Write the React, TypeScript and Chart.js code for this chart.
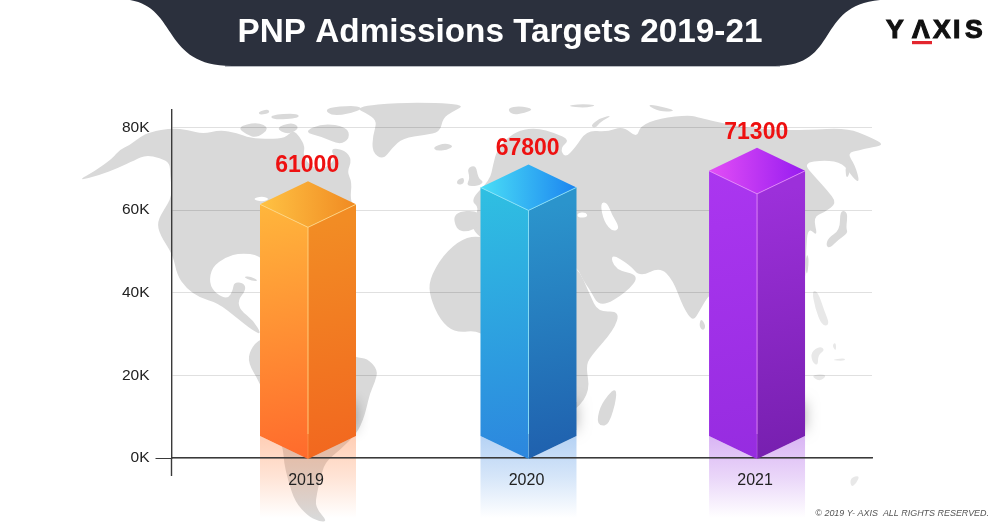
import React, { useEffect, useRef } from "react";
import { Chart, registerables } from "chart.js";

Chart.register(...registerables);

const chartTitle = "PNP Admissions Targets 2019-21";
const categories = ["2019", "2020", "2021"];
const admissions = [61000, 67800, 71300];
// Height of each column's shoulder as pictured (the artwork does not sit exactly on its printed value).
const pictureLevels = [61400, 65500, 69500];
const columnSlots = [0, 0.982, 2];
const yTickValues = [0, 20000, 40000, 60000, 80000];
const yMax = 84241;
const copyright = "© 2019 Y- AXIS  ALL RIGHTS RESERVED.";

const leftFace = [["#FFB63C", "#FF6A2C"], ["#2FC0E2", "#2C86DE"], ["#AB36F0", "#962CE0"]];
const rightFace = [["#F28C24", "#F2661F"], ["#2B94CC", "#1F5FAD"], ["#9C30DA", "#761FAE"]];
const topFace = [["#FFC344", "#F08A22"], ["#4ADFF6", "#1C84F0"], ["#E44EF6", "#961CF0"]];
const edgeTint = ["#FFD98A", "#8FE6FA", "#E58BFA"];
const mirrorTint = ["255,120,50", "50,130,225", "150,50,225"];

type P = number[];
const landMasses: P[] = [
  // North America
  [77,181,95,171,113,158,119,150,130,145,140,137,150,132,172,128,188,130,203,134,220,130,237,133,250,138,270,139,285,138,293,130,300,137,305,147,303,155,310,166,322,170,336,160,330,148,345,150,352,160,347,172,352,182,350,200,356,210,345,235,325,262,300,275,270,270,260,255,240,253,226,257,212,267,209,283,216,294,228,299,233,290,234,282,244,283,246,290,238,300,240,310,253,320,262,335,252,330,237,318,218,303,200,298,186,288,177,275,173,255,160,235,157,222,165,208,170,200,172,190,170,175,170,163,160,158,146,155,135,160,118,168,100,175],
  // Canadian Arctic
  [237,127,257,122,270,128,257,138,247,135],
  [303,132,323,123,347,127,350,138,340,145,323,137],
  [270,115,297,113,300,118,273,120],
  [275,128,292,122,300,128,288,135],
  [323,108,357,105,363,110,333,117],
  [258,112,268,109,270,113,260,115],
  // Cuba
  [243,277,250,276,259,281,252,281],
  // South America
  [250,350,260,338,285,335,330,345,356,358,367,358,378,370,375,382,370,393,366,410,363,420,357,433,340,450,325,462,320,480,317,493,315,507,328,522,318,521,308,516,295,502,288,480,284,463,283,447,270,410,260,383,248,363],
  // Greenland
  [353,107,403,102,467,104,452,112,443,118,440,132,425,135,403,138,392,148,383,160,372,152,373,135,377,122,370,115],
  // Iceland
  [433,147,445,143,454,146,447,150,436,151],
  // Britain, Ireland
  [467,168,476,165,478,178,484,182,478,186,466,186,470,178],
  [457,180,464,177,464,184,457,185],
  // Svalbard and Arctic islands
  [507,108,520,106,534,109,525,113,512,115],
  [566,106,580,104,598,105,585,108],
  [647,105,655,105,678,111,660,112],
  [590,126,600,118,613,115,600,122,596,128],
  // Eurasia with Scandinavia
  [493,165,497,150,507,138,520,130,537,128,555,133,570,140,560,148,565,158,575,148,587,130,607,132,623,126,637,138,640,126,660,118,690,115,700,118,740,127,775,130,807,130,847,128,870,137,885,145,868,148,860,150,847,153,855,165,860,183,853,178,843,163,825,160,803,163,815,177,827,190,837,203,825,212,813,217,818,237,808,227,806,250,806,275,800,300,780,320,745,305,725,290,710,293,700,310,693,322,683,307,673,280,660,267,640,277,630,265,610,253,615,270,640,275,627,292,600,308,590,290,583,280,577,267,560,262,530,250,490,240,480,238,470,225,480,208,470,200,490,180],
  // Iberia
  [453,212,480,210,482,225,468,232,456,230],
  // Africa
  [463,238,480,236,540,245,577,265,590,295,598,312,620,311,614,330,590,357,586,367,590,390,577,410,540,430,515,400,500,350,480,330,455,333,440,320,430,297,429,280,443,255],
  // Madagascar
  [615,387,617,397,609,425,600,426,597,420,601,404],
  // Sri Lanka
  [701,318,706,326,703,331,699,326],
  // Japan and neighbours
  [840,210,848,212,846,228,848,233,838,240,830,248,826,246,828,238,840,230],
  [807,253,809,260,807,277,805,265],
  [848,158,852,165,847,180,845,170],
];
const lakesAndSeas: P[] = [
  [252,199,262,196,270,199,262,202],
  [600,203,607,202,612,215,620,228,613,232,604,222],
  [577,213,586,212,588,217,578,218],
];
const fadedIslands: P[] = [
  [812,290,818,292,824,310,830,325,822,326,815,308],
  [811,352,820,346,825,350,818,355,818,366,812,362],
  [832,345,836,342,836,352],
  [830,360,845,358,845,361],
  [810,375,828,374,820,382],
  [850,478,860,475,856,484,851,487],
];

const pathOf = (ctx: CanvasRenderingContext2D, pts: P) => {
  ctx.beginPath();
  ctx.moveTo(pts[0], pts[1]);
  for (let i = 2; i < pts.length; i += 2) ctx.lineTo(pts[i], pts[i + 1]);
  ctx.closePath();
};

// Same outline with its corners rounded, for the backdrop map.
const softPathOf = (ctx: CanvasRenderingContext2D, pts: P) => {
  const n = pts.length / 2;
  const mid = (i: number) => {
    const a = i % n, b = (i + 1) % n;
    return [(pts[a * 2] + pts[b * 2]) / 2, (pts[a * 2 + 1] + pts[b * 2 + 1]) / 2];
  };
  ctx.beginPath();
  const start = mid(n - 1);
  ctx.moveTo(start[0], start[1]);
  for (let i = 0; i < n; i++) {
    const m = mid(i);
    ctx.quadraticCurveTo(pts[i * 2], pts[i * 2 + 1], m[0], m[1]);
  }
  ctx.closePath();
};

const FONT = '"Liberation Sans", Arial, sans-serif';
const HALF_DEPTH = 23;

const scenery = {
  id: "scenery",
  beforeDraw(chart: any) {
    const { ctx, scales } = chart;
    const meta = chart.getDatasetMeta(0);
    ctx.save();
    ctx.fillStyle = "#fff";
    ctx.fillRect(0, 0, 1000, 524);
    ctx.fillStyle = "#d9d9d9";
    landMasses.forEach((p) => { softPathOf(ctx, p); ctx.fill(); });
    ctx.fillStyle = "#fff";
    lakesAndSeas.forEach((p) => { softPathOf(ctx, p); ctx.fill(); });
    ctx.fillStyle = "#e8e8e8";
    fadedIslands.forEach((p) => { softPathOf(ctx, p); ctx.fill(); });

    // Title band
    ctx.fillStyle = "#b9bcc2";
    ctx.fillRect(225, 65, 555, 2);
    ctx.fillStyle = "#2b303d";
    ctx.beginPath();
    ctx.moveTo(130, 0);
    ctx.bezierCurveTo(178, 8, 162, 66, 232, 66);
    ctx.lineTo(775, 66);
    ctx.bezierCurveTo(840, 66, 815, 6, 880, 0);
    ctx.closePath();
    ctx.fill();

    // Mirror image under each column
    const base = scales.y.getPixelForValue(0) + 1;
    meta.data.forEach((bar: any, i: number) => {
      const half = bar.width / 2;
      const g = ctx.createLinearGradient(0, base - HALF_DEPTH, 0, 518);
      g.addColorStop(0, `rgba(${mirrorTint[i]},0.36)`);
      g.addColorStop(0.5, `rgba(${mirrorTint[i]},0.2)`);
      g.addColorStop(1, `rgba(${mirrorTint[i]},0)`);
      ctx.fillStyle = g;
      pathOf(ctx, [bar.x - half, base - HALF_DEPTH, bar.x, base, bar.x + half, base - HALF_DEPTH, bar.x + half, 518, bar.x - half, 518]);
      ctx.fill();
    });
    ctx.restore();
  },
  beforeDatasetsDraw(chart: any) {
    const { ctx, scales, chartArea } = chart;
    const meta = chart.getDatasetMeta(0);
    ctx.save();
    ctx.strokeStyle = "#3a3a3a";
    ctx.lineWidth = 1.4;
    ctx.beginPath();
    ctx.moveTo(chartArea.left, chartArea.bottom);
    ctx.lineTo(chartArea.left, 476);
    ctx.stroke();

    const base = scales.y.getPixelForValue(0) + 1;
    meta.data.forEach((bar: any, i: number) => {
      const half = bar.width / 2;
      const L = bar.x - half, R = bar.x + half, C = bar.x;
      const shoulder = scales.y.getPixelForValue(pictureLevels[i]);
      const foot = base - HALF_DEPTH;
      const front = shoulder + HALF_DEPTH;
      const apex = shoulder - HALF_DEPTH;

      // Soft cast shadow to the right of the foot
      ctx.save();
      ctx.beginPath();
      ctx.rect(R, foot - 70, 40, 95);
      ctx.clip();
      ctx.shadowColor = "rgba(0,0,0,0.3)";
      ctx.shadowBlur = 14;
      ctx.fillStyle = "#999";
      ctx.fillRect(R - 30, foot - 34, 30, 28);
      ctx.restore();

      const faces: [P, string[], number[]][] = [
        [[L, shoulder, C, front, C, base, L, foot], leftFace[i], [L, shoulder, C, base]],
        [[C, front, R, shoulder, R, foot, C, base], rightFace[i], [C, front, R, base]],
        [[C, apex, R, shoulder, C, front, L, shoulder], topFace[i], [L, shoulder, R, shoulder]],
      ];
      faces.forEach(([pts, cols, g]) => {
        const grad = ctx.createLinearGradient(g[0], g[1], g[2], g[3]);
        grad.addColorStop(0, cols[0]);
        grad.addColorStop(1, cols[1]);
        ctx.fillStyle = grad;
        pathOf(ctx, pts);
        ctx.fill();
      });
      ctx.strokeStyle = edgeTint[i];
      ctx.lineWidth = 1;
      ctx.globalAlpha = 0.85;
      ctx.beginPath();
      ctx.moveTo(L, shoulder);
      ctx.lineTo(C, front);
      ctx.lineTo(R, shoulder);
      ctx.moveTo(C, front);
      ctx.lineTo(C, base - 25);
      ctx.stroke();
      ctx.globalAlpha = 0.3;
      ctx.beginPath();
      ctx.moveTo(C, base - 25);
      ctx.lineTo(C, base);
      ctx.stroke();
      ctx.globalAlpha = 1;
    });
    ctx.restore();
  },
  afterDatasetsDraw(chart: any) {
    const { ctx, scales } = chart;
    const meta = chart.getDatasetMeta(0);
    ctx.save();
    ctx.textAlign = "center";
    ctx.textBaseline = "middle";
    ctx.font = `bold 23px ${FONT}`;
    ctx.fillStyle = "#ee1111";
    meta.data.forEach((bar: any, i: number) => {
      const apex = scales.y.getPixelForValue(pictureLevels[i]) - HALF_DEPTH;
      ctx.fillText(String(admissions[i]), bar.x - 0.8, apex - 15.5);
    });

    // Brand mark
    ctx.textAlign = "left";
    ctx.textBaseline = "alphabetic";
    ctx.font = `bold 26.5px ${FONT}`;
    ctx.fillStyle = "#111";
    ctx.strokeStyle = "#111";
    ctx.lineWidth = 1.1;
    [["Y", 886], ["Λ", 912], ["X", 933], ["I", 953], ["S", 965]].forEach(([t, x]) => {
      ctx.fillText(t as string, x as number, 38);
      ctx.strokeText(t as string, x as number, 38);
    });
    ctx.fillStyle = "#e3262e";
    ctx.fillRect(912, 41, 20, 3.2);

    // Copyright line
    ctx.font = `italic 8.95px ${FONT}`;
    ctx.fillStyle = "#555";
    ctx.textAlign = "right";
    ctx.fillText(copyright, 989, 516);
    ctx.restore();
  },
};

export default function App() {
  const ref = useRef<HTMLCanvasElement>(null);
  useEffect(() => {
    const chart = new Chart(ref.current as HTMLCanvasElement, {
      type: "bar",
      plugins: [scenery],
      data: {
        labels: categories,
        datasets: [{
          label: "PNP admissions target",
          data: columnSlots.map((x, i) => ({ x, y: admissions[i] })),
          backgroundColor: "rgba(0,0,0,0)",
          barThickness: 96,
        }],
      },
      options: {
        animation: false,
        responsive: false,
        devicePixelRatio: 1,
        plugins: {
          legend: { display: false },
          tooltip: { enabled: false },
          title: {
            display: true,
            text: chartTitle,
            color: "#ffffff",
            font: { family: FONT, size: 33.3, weight: "bold", lineHeight: 1.2 },
            padding: { top: 13, bottom: 57 },
          },
        },
        scales: {
          x: {
            type: "linear",
            offset: false,
            min: -0.608,
            max: 2.512,
            grid: { display: false, drawTicks: false, offset: false },
            border: { display: true, color: "#3a3a3a", width: 1.4 },
            afterBuildTicks: (s: any) => { s.ticks = columnSlots.map((value) => ({ value })); },
            afterFit: (s: any) => { s.height = 66; },
            ticks: {
              autoSkip: false,
              maxRotation: 0,
              padding: 13,
              labelOffset: -2,
              color: "#222",
              font: { family: FONT, size: 16 },
              callback: (v: any) => categories[columnSlots.indexOf(v)],
            },
          },
          y: {
            min: 0,
            max: yMax,
            grid: {
              color: "rgba(0,0,0,0.12)",
              lineWidth: 1,
              tickLength: 16,
              tickColor: (c: any) => (c.tick && c.tick.value === 0 ? "#3a3a3a" : "rgba(0,0,0,0)"),
            },
            border: { display: true, color: "#3a3a3a", width: 1.4 },
            afterBuildTicks: (s: any) => { s.ticks = yTickValues.map((value) => ({ value })); },
            afterFit: (s: any) => { s.width = 171.5; },
            ticks: {
              padding: 6,
              color: "#222",
              font: { family: FONT, size: 15.5 },
              callback: (v: any) => `${Number(v) / 1000}K`,
            },
          },
          gutter: {
            type: "linear",
            position: "right",
            display: true,
            grid: { display: false, drawTicks: false },
            border: { display: false },
            ticks: { display: false },
            afterFit: (s: any) => { s.width = 128; },
          },
        },
      },
    } as any);
    return () => chart.destroy();
  }, []);
  return (
    <div style={{ position: "absolute", left: 0, top: 0, width: 1000, height: 524, overflow: "hidden", background: "#fff" }}>
      <canvas ref={ref} width={1000} height={524} style={{ display: "block" }} />
    </div>
  );
}
